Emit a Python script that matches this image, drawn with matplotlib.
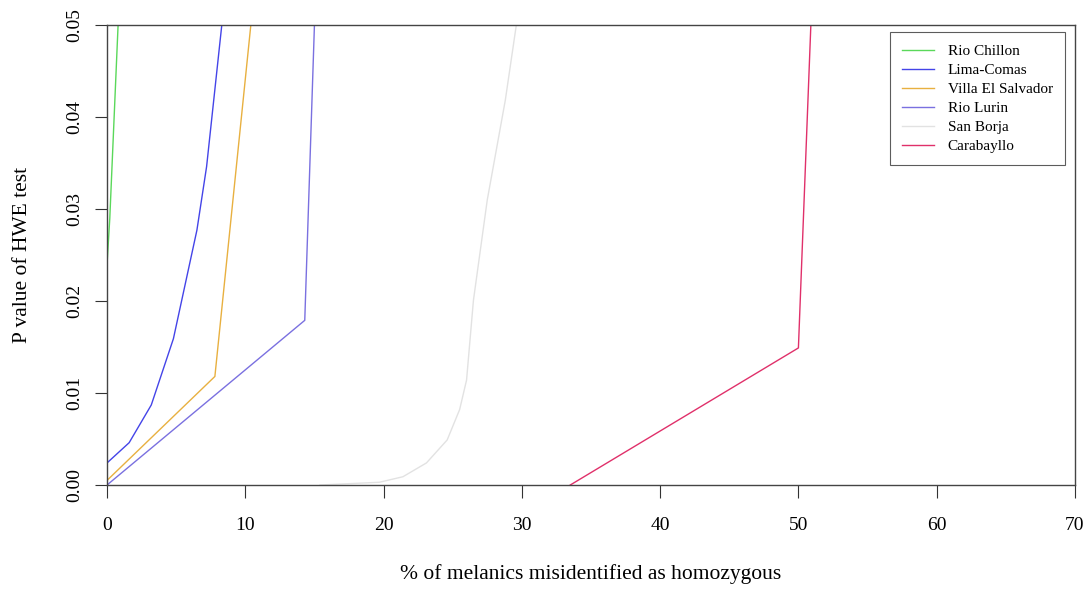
import numpy as np
import matplotlib
matplotlib.use("Agg")
from matplotlib import pyplot as plt

plt.rcParams['font.family'] = ['Liberation Serif', 'DejaVu Serif']

# % misidentified (x) and HWE p value (y) for each site
chillon_x = [0.0, 0.2, 0.8]
chillon_y = [0.024, 0.029, 0.05]

comas_x = [0.0, 1.6, 3.2, 4.8, 6.5, 7.2, 8.3]
comas_y = [0.0024, 0.0046, 0.0087, 0.0159, 0.0277, 0.0346, 0.05]

ves_x = [0.0, 7.8, 10.4]
ves_y = [0.0005, 0.0118, 0.05]

lurin_x = [0.0, 14.3, 15.0]
lurin_y = [0.0, 0.0179, 0.05]

borja_x = [15.4, 19.7, 21.4, 23.1, 24.6, 25.5, 26.0, 26.5, 27.5, 28.8, 29.6]
borja_y = [0.0, 0.0003, 0.0009, 0.0024, 0.0049, 0.0082, 0.0114, 0.0201, 0.031, 0.0418, 0.05]

carab_x = [33.5, 50.0, 50.9]
carab_y = [0.0, 0.0149, 0.05]

names = ["Rio Chillon", "Lima-Comas", "Villa El Salvador", "Rio Lurin", "San Borja", "Carabayllo"]
colors = ["#5ad85a", "#4444e8", "#e8b040", "#7a70e0", "#e2e2e2", "#e0306a"]
xs = [chillon_x, comas_x, ves_x, lurin_x, borja_x, carab_x]
ys = [chillon_y, comas_y, ves_y, lurin_y, borja_y, carab_y]

fig = plt.figure(figsize=(10.91, 5.93), dpi=100)
ax = fig.add_axes([0.0981, 0.1821, 0.8872, 0.7757])

for x, y, c, n in zip(xs, ys, colors, names):
    ax.plot(x, y, color=c, lw=1.0, label=n)

ax.set_xlim(0, 70)
ax.set_ylim(0, 0.05)
ax.set_xticks(np.arange(0, 71, 10))
ax.set_yticks([0.0, 0.01, 0.02, 0.03, 0.04, 0.05])
ax.set_yticklabels(["0.00", "0.01", "0.02", "0.03", "0.04", "0.05"], rotation=90, va='center')
ax.tick_params(direction='out', length=9, width=0.8, labelsize=14, colors='#333333', labelcolor='black')
ax.tick_params(axis='x', pad=14)
ax.tick_params(axis='y', pad=8)
for s in ax.spines.values():
    s.set_color('#444444')
    s.set_linewidth(1.0)

ax.set_xlabel("% of melanics misidentified as homozygous", fontsize=15.5)
ax.set_ylabel("P value of HWE test", fontsize=15.5)
ax.xaxis.set_label_coords(0.5, -0.172)
ax.yaxis.set_label_coords(-0.077, 0.5)

leg = ax.legend(loc='upper right', fontsize=11, frameon=True, fancybox=False,
                edgecolor='#333333', handlelength=2.1, handletextpad=0.9,
                borderpad=0.8, labelspacing=0.35, borderaxespad=0,
                bbox_to_anchor=(0.9897, 0.9848))
leg.get_frame().set_linewidth(0.8)

fig.savefig("out.png", dpi=100)
